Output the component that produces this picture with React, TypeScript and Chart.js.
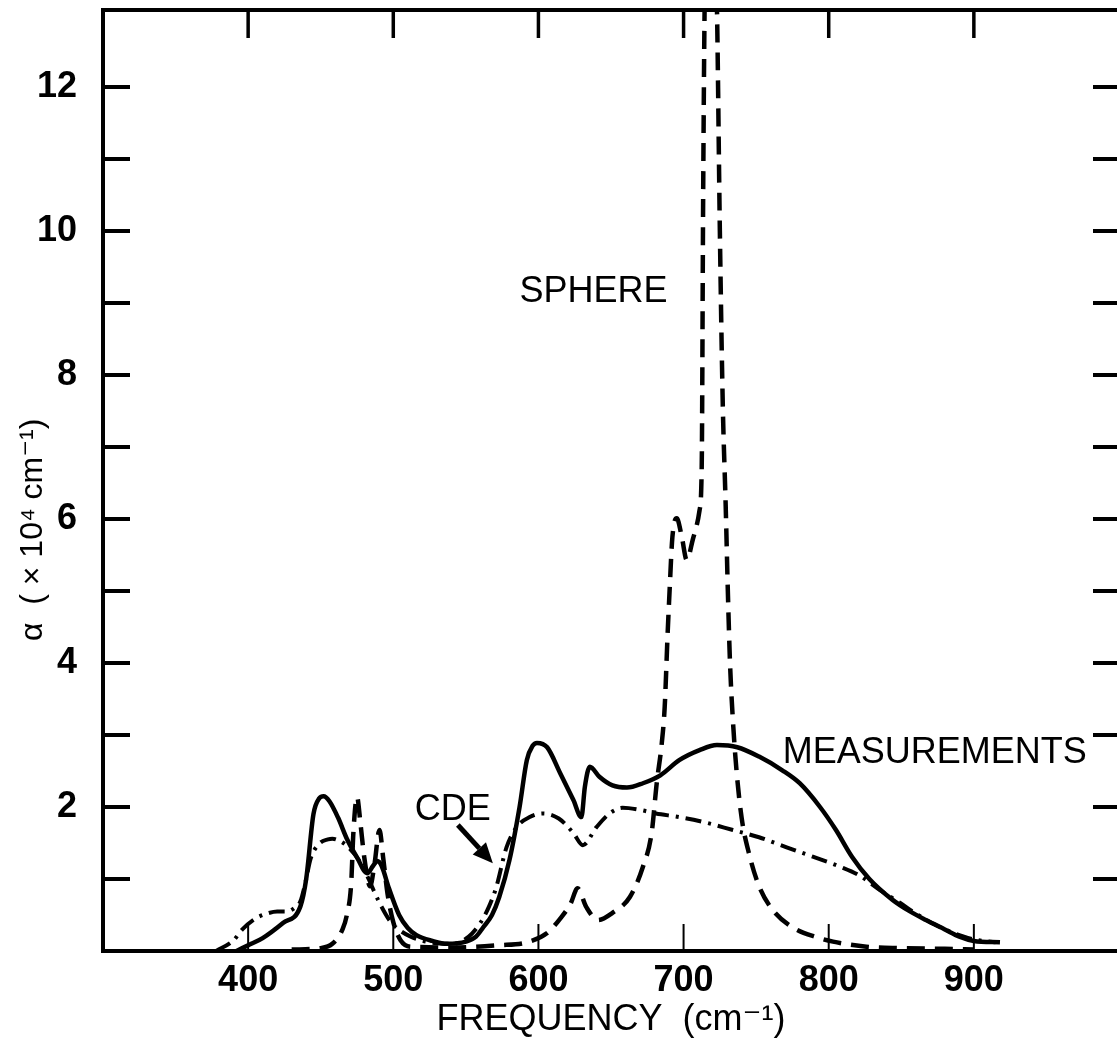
import React, { useEffect, useRef } from 'react';
import { Chart, registerables } from 'chart.js';

Chart.register(...registerables);

const FONT = '"Liberation Sans", Arial, "DejaVu Sans", sans-serif';

// MEASUREMENTS (solid)
const measFreq = [392, 400, 410, 424, 436, 440, 445, 449, 452, 456, 462, 468, 475, 482, 486, 489, 492, 497, 504, 510, 516, 527, 537, 550, 557, 562, 568, 573, 580, 587, 592, 596, 599, 606, 615, 624, 629.6, 632, 635.4, 642, 651, 661, 672, 684, 697, 711, 723, 737, 752, 768, 780, 794, 805, 816, 828, 844, 856, 867, 880, 890, 900, 918];
const measAlpha = [0.0, 0.08, 0.18, 0.39, 0.62, 1.0, 1.9, 2.12, 2.15, 2.08, 1.85, 1.56, 1.3, 1.08, 1.18, 1.25, 1.18, 0.87, 0.5, 0.32, 0.22, 0.14, 0.1, 0.13, 0.2, 0.33, 0.5, 0.75, 1.26, 2.0, 2.65, 2.85, 2.89, 2.83, 2.47, 2.1, 1.86, 2.28, 2.56, 2.42, 2.3, 2.27, 2.33, 2.44, 2.65, 2.79, 2.86, 2.83, 2.7, 2.51, 2.33, 2.0, 1.68, 1.31, 1.0, 0.71, 0.55, 0.43, 0.3, 0.2, 0.14, 0.12];

// CDE (dash-dot)
const cdeFreq = [378, 390, 396, 405, 413, 420, 427, 432, 436, 440, 443, 449, 455, 458, 463, 468, 477, 483, 489, 498, 505, 512, 525, 541, 552, 560, 566, 571, 578, 585, 594, 603, 614, 624, 630.6, 640, 649, 658, 670, 681, 697, 716, 734, 752, 771, 789, 808, 821, 835, 849, 860, 870, 880, 890, 900, 915];
const cdeAlpha = [0.0, 0.15, 0.3, 0.45, 0.52, 0.55, 0.55, 0.6, 0.69, 1.0, 1.28, 1.49, 1.55, 1.56, 1.53, 1.46, 1.24, 1.0, 0.73, 0.41, 0.28, 0.2, 0.12, 0.1, 0.2, 0.39, 0.62, 0.89, 1.44, 1.72, 1.86, 1.91, 1.84, 1.64, 1.47, 1.72, 1.91, 1.99, 1.96, 1.91, 1.86, 1.78, 1.68, 1.58, 1.44, 1.31, 1.17, 1.05, 0.85, 0.67, 0.52, 0.4, 0.3, 0.22, 0.16, 0.12];

// SPHERE (dashed)
const sphereFreq = [430, 450, 458, 465, 468, 471, 472.5, 475, 477.5, 480, 484, 487, 490.5, 493, 496, 500, 505, 512, 540, 573, 592, 606, 615, 622, 627, 633, 641, 651, 663, 672, 678, 681.5, 685, 687, 689, 690.5, 692, 693.5, 695.3, 698.8, 702.2, 706.3, 711, 712.5, 713.5, 714.5, 718.5, 723, 725, 727, 729, 730.5, 732, 734, 736.5, 740, 745, 752, 761.4, 775, 791.7, 803, 826, 849, 880, 900];
const sphereAlpha = [0.02, 0.04, 0.1, 0.3, 0.5, 0.94, 1.64, 2.14, 1.75, 1.3, 0.9, 1.2, 1.68, 1.3, 0.8, 0.4, 0.15, 0.06, 0.05, 0.08, 0.12, 0.25, 0.45, 0.65, 0.87, 0.61, 0.43, 0.53, 0.75, 1.17, 1.64, 2.33, 2.89, 3.39, 4.4, 5.06, 5.67, 5.94, 6.01, 5.75, 5.43, 5.71, 6.12, 6.72, 10.5, 13.1, 16, 13.1, 10, 7.6, 6.2, 5.0, 4.0, 3.2, 2.5, 1.85, 1.36, 0.9, 0.57, 0.33, 0.19, 0.13, 0.06, 0.04, 0.03, 0.02];

const xTickLabels = [400, 500, 600, 700, 800, 900];
const yTickLabels = [2, 4, 6, 8, 10, 12];
const xTitle = 'FREQUENCY  (cm\u207B\u00B9)';
const yTitle = '\u03B1  ( \u00D7 10\u2074 cm\u207B\u00B9)';

// annotation labels: [text, frequency, alpha]
const noteText = ['SPHERE', 'MEASUREMENTS', 'CDE'];
const noteFreq = [638, 873, 541];
const noteAlpha = [9.15, 2.75, 1.96];
// CDE arrow: from (freq, alpha) to (freq, alpha)
const arrowFreq = [544.5, 568.6];
const arrowAlpha = [1.75, 1.22];

const toPts = (xs: number[], ys: number[]) => xs.map((x, i) => ({ x, y: ys[i] }));

const framePlugin = {
  id: 'frameAndNotes',
  afterDatasetsDraw(chart: any) {
    const { ctx, chartArea, scales } = chart;
    const { left, right, top, bottom } = chartArea;
    const x = scales.x;
    const y = scales.y;
    ctx.save();
    ctx.strokeStyle = '#000';
    ctx.fillStyle = '#000';
    ctx.lineCap = 'butt';
    // frame
    ctx.lineWidth = 4;
    ctx.strokeRect(left, top, right - left, bottom - top);
    // y ticks (inward, both sides)
    y.ticks.forEach((t: any) => {
      const v = t.value;
      if (!Number.isInteger(v) || v <= 0 || v >= 13) return;
      const py = y.getPixelForValue(v);
      ctx.lineWidth = 4;
      ctx.beginPath();
      ctx.moveTo(left, py);
      ctx.lineTo(left + 27, py);
      ctx.moveTo(right - 26, py);
      ctx.lineTo(right, py);
      ctx.stroke();
    });
    // x ticks (inward, top and bottom)
    x.ticks.forEach((t: any) => {
      const v = t.value;
      if (!xTickLabels.includes(v)) return;
      const px = x.getPixelForValue(v);
      ctx.lineWidth = 3.5;
      ctx.beginPath();
      ctx.moveTo(px, top);
      ctx.lineTo(px, top + 28);
      ctx.stroke();
      ctx.lineWidth = 2;
      ctx.beginPath();
      ctx.moveTo(px, bottom);
      ctx.lineTo(px, bottom - 27);
      ctx.stroke();
    });
    // annotations
    ctx.font = `36px ${FONT}`;
    ctx.textAlign = 'center';
    ctx.textBaseline = 'middle';
    noteText.forEach((txt, i) => {
      ctx.fillText(txt, x.getPixelForValue(noteFreq[i]), y.getPixelForValue(noteAlpha[i]));
    });
    // arrow
    const x0 = x.getPixelForValue(arrowFreq[0]);
    const y0 = y.getPixelForValue(arrowAlpha[0]);
    const x1 = x.getPixelForValue(arrowFreq[1]);
    const y1 = y.getPixelForValue(arrowAlpha[1]);
    const ang = Math.atan2(y1 - y0, x1 - x0);
    const headLen = 20;
    const headW = 9;
    ctx.lineWidth = 5;
    ctx.beginPath();
    ctx.moveTo(x0, y0);
    ctx.lineTo(x1 - headLen * Math.cos(ang), y1 - headLen * Math.sin(ang));
    ctx.stroke();
    ctx.beginPath();
    ctx.moveTo(x1, y1);
    ctx.lineTo(x1 - headLen * Math.cos(ang) + headW * Math.sin(ang), y1 - headLen * Math.sin(ang) - headW * Math.cos(ang));
    ctx.lineTo(x1 - headLen * Math.cos(ang) - headW * Math.sin(ang), y1 - headLen * Math.sin(ang) + headW * Math.cos(ang));
    ctx.closePath();
    ctx.fill();
    // y axis title
    ctx.save();
    ctx.translate(y.left + 33, y.getPixelForValue(5.85));
    ctx.rotate(-Math.PI / 2);
    ctx.font = `32px ${FONT}`;
    ctx.textAlign = 'center';
    ctx.textBaseline = 'middle';
    ctx.fillText(yTitle, 0, 0);
    ctx.restore();
    ctx.restore();
  },
};

export default function App() {
  const ref = useRef<HTMLCanvasElement | null>(null);
  useEffect(() => {
    document.documentElement.style.overflow = 'hidden';
    document.body.style.margin = '0';
    document.body.style.overflow = 'hidden';
    const canvas = ref.current;
    if (!canvas) return;
    const chart = new Chart(canvas, {
      type: 'line',
      data: {
        datasets: [
          {
            label: 'MEASUREMENTS',
            data: toPts(measFreq, measAlpha),
            borderColor: '#000',
            borderWidth: 4.5,
            pointRadius: 0,
            fill: false,
            cubicInterpolationMode: 'monotone',
          },
          {
            label: 'CDE',
            data: toPts(cdeFreq, cdeAlpha),
            borderColor: '#000',
            borderWidth: 4,
            borderDash: [16, 7, 3, 7],
            pointRadius: 0,
            fill: false,
            cubicInterpolationMode: 'monotone',
          },
          {
            label: 'SPHERE',
            data: toPts(sphereFreq, sphereAlpha),
            borderColor: '#000',
            borderWidth: 4.5,
            borderDash: [18, 10],
            pointRadius: 0,
            fill: false,
            cubicInterpolationMode: 'monotone',
          },
        ],
      } as any,
      options: {
        animation: false,
        responsive: false,
        maintainAspectRatio: false,
        events: [],
        layout: { padding: { top: 10, right: 6, left: 0, bottom: 0 } },
        plugins: { legend: { display: false }, tooltip: { enabled: false } },
        scales: {
          x: {
            type: 'linear',
            min: 300,
            max: 1000,
            grid: { display: false },
            border: { display: false },
            ticks: {
              stepSize: 100,
              autoSkip: false,
              maxRotation: 0,
              padding: 0,
              color: '#000',
              font: { size: 36, weight: 'bold', family: FONT },
              callback: (v: any) => (xTickLabels.includes(v) ? String(v) : ''),
            },
            title: {
              display: true,
              text: xTitle,
              color: '#000',
              font: { size: 36, family: FONT },
              padding: { top: 0, bottom: 0 },
            },
            afterFit: (s: any) => {
              s.height = 91;
              s.paddingLeft = 0;
              s.paddingRight = 0;
            },
          },
          y: {
            type: 'linear',
            min: 0,
            max: 13.07,
            grid: { display: false },
            border: { display: false },
            ticks: {
              stepSize: 1,
              autoSkip: false,
              padding: 18,
              color: '#000',
              font: { size: 36, weight: 'bold', family: FONT },
              callback: (v: any) => (yTickLabels.includes(v) ? String(v) : ''),
            },
            afterFit: (s: any) => {
              s.width = 103;
              s.paddingTop = 0;
              s.paddingBottom = 0;
            },
          },
        },
      } as any,
      plugins: [framePlugin],
    });
    return () => chart.destroy();
  }, []);
  return (
    <div style={{ position: 'absolute', left: 0, top: 0, width: 1125, height: 1042, background: '#fff' }}>
      <canvas ref={ref} width={1125} height={1042} style={{ display: 'block' }} />
    </div>
  );
}
